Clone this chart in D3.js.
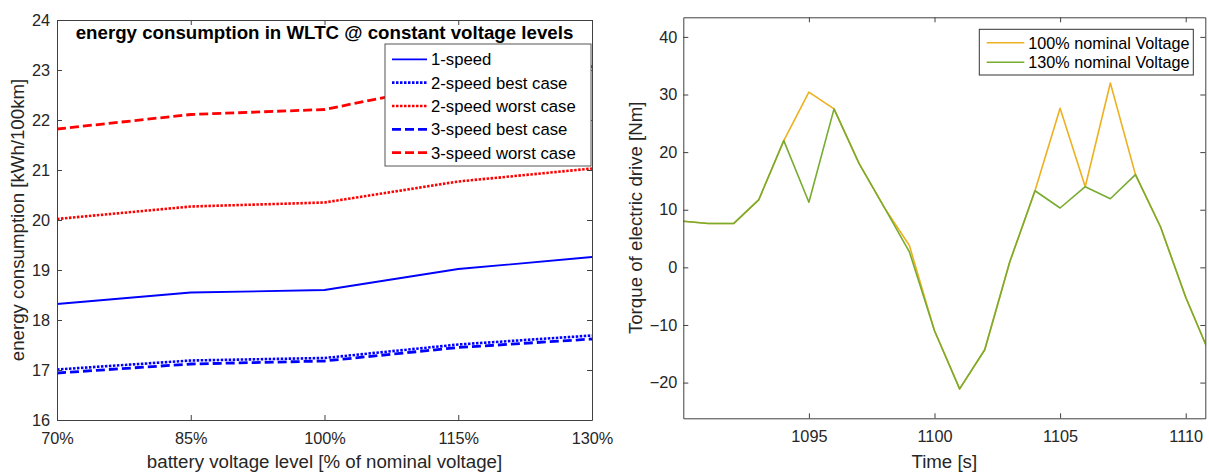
<!DOCTYPE html>
<html>
<head>
<meta charset="utf-8">
<script src="https://cdn.jsdelivr.net/npm/d3@7"></script>
<style>
  html, body { margin: 0; padding: 0; background: #ffffff; }
  svg { display: block; font-family: "Liberation Sans", Arial, Helvetica, sans-serif; }
</style>
</head>
<body>
<div id="chart"></div>
<script>
// ---- left chart data: energy consumption vs battery voltage ----
const voltageLevels = [70, 85, 100, 115, 130];
const oneSpeed = [18.32, 18.55, 18.60, 19.02, 19.26];
const twoSpeedBest = [17.01, 17.19, 17.24, 17.51, 17.69];
const twoSpeedWorst = [20.02, 20.27, 20.35, 20.77, 21.03];
const threeSpeedBest = [16.94, 17.12, 17.18, 17.45, 17.62];
const threeSpeedWorst = [21.82, 22.11, 22.21, 22.75, 23.07];
const leftSeriesNames = ['1-speed', '2-speed best case', '2-speed worst case', '3-speed best case', '3-speed worst case'];
const leftYTicks = [16, 17, 18, 19, 20, 21, 22, 23, 24];

// ---- right chart data: torque over time ----
const timeSec = [1090, 1091, 1092, 1093, 1094, 1095, 1096, 1097, 1098, 1099, 1100,
                 1101, 1102, 1103, 1104, 1105, 1106, 1107, 1108, 1109, 1110, 1111];
const torque100 = [8.0, 7.6, 7.6, 11.7, 22.0, 30.4, 27.5, 18.0, 10.4, 3.8, -11.0,
                   -21.1, -14.3, 1.0, 13.3, 27.6, 14.0, 32.0, 16.1, 7.0, -5.2, -15.5];
const torque130 = [8.0, 7.6, 7.6, 11.7, 22.0, 11.3, 27.5, 18.0, 10.4, 2.7, -11.0,
                   -21.1, -14.3, 1.0, 13.3, 10.3, 14.0, 11.9, 16.1, 7.0, -5.2, -15.5];
const rightSeriesNames = ['100% nominal Voltage', '130% nominal Voltage'];
const rightXTicks = [1095, 1100, 1105, 1110];
const rightYTicks = [-20, -10, 0, 10, 20, 30, 40];

const textColor = '#262626';
const axisColor = '#404040';

const svg = d3.select('#chart')
  .append('svg')
  .attr('width', 1209)
  .attr('height', 472);

// draws a boxed MATLAB-style axes with inward ticks on all four sides
function drawBox(g, x, y, xTicks, yTicks, xFmt, yFmt, yPad) {
  const [x0, x1] = x.range();
  const [y0, y1] = y.range();

  const bottom = g.append('g')
    .attr('transform', `translate(0,${y0})`)
    .call(d3.axisBottom(x).tickValues(xTicks).tickFormat(xFmt).tickSizeInner(-5).tickSizeOuter(0).tickPadding(12));
  const top = g.append('g')
    .attr('transform', `translate(0,${y1})`)
    .call(d3.axisTop(x).tickValues(xTicks).tickFormat('').tickSizeInner(-5).tickSizeOuter(0));
  const left = g.append('g')
    .attr('transform', `translate(${x0},0)`)
    .call(d3.axisLeft(y).tickValues(yTicks).tickFormat(yFmt).tickSizeInner(-5).tickSizeOuter(0).tickPadding(yPad));
  const right = g.append('g')
    .attr('transform', `translate(${x1},0)`)
    .call(d3.axisRight(y).tickValues(yTicks).tickFormat('').tickSizeInner(-5).tickSizeOuter(0));

  [bottom, top, left, right].forEach(a => {
    a.select('.domain').attr('stroke', axisColor);
    a.selectAll('.tick line').attr('stroke', axisColor);
    a.selectAll('text')
      .attr('fill', textColor)
      .style('font-size', '16.3px')
      .style('font-family', '"Liberation Sans", Arial, sans-serif');
  });
}

// ================= LEFT CHART =================
const xL = d3.scaleLinear().domain([70, 130]).range([57, 592]);
const yL = d3.scaleLinear().domain([16, 24]).range([420, 20]);

const gL = svg.append('g');

svg.append('clipPath').attr('id', 'clipL')
  .append('rect')
  .attr('x', xL(70)).attr('y', yL(24))
  .attr('width', xL(130) - xL(70)).attr('height', yL(16) - yL(24));

const leftSeries = [
  { name: leftSeriesNames[0], values: oneSpeed, color: '#0000ff', width: 1.8, dash: null },
  { name: leftSeriesNames[1], values: twoSpeedBest, color: '#0000ff', width: 2.6, dash: '2.5,1.5' },
  { name: leftSeriesNames[2], values: twoSpeedWorst, color: '#ff0000', width: 2.6, dash: '2.5,1.5' },
  { name: leftSeriesNames[3], values: threeSpeedBest, color: '#0000ff', width: 2.8, dash: '9,4' },
  { name: leftSeriesNames[4], values: threeSpeedWorst, color: '#ff0000', width: 2.8, dash: '9,4' }
];

const lineL = d3.line()
  .x(d => xL(d[0]))
  .y(d => yL(d[1]));

gL.append('g')
  .attr('clip-path', 'url(#clipL)')
  .selectAll('path')
  .data(leftSeries)
  .enter()
  .append('path')
  .attr('fill', 'none')
  .attr('stroke', d => d.color)
  .attr('stroke-width', d => d.width)
  .attr('stroke-dasharray', d => d.dash)
  .attr('d', d => lineL(voltageLevels.map((v, i) => [v, d.values[i]])));

drawBox(gL, xL, yL, voltageLevels, leftYTicks, d => d + '%', d3.format('d'), 7);

// title
gL.append('text')
  .attr('x', (xL(70) + xL(130)) / 2)
  .attr('y', 39)
  .attr('text-anchor', 'middle')
  .attr('fill', '#000')
  .style('font-size', '18.7px')
  .style('font-weight', 'bold')
  .text('energy consumption in WLTC @ constant voltage levels');

// axis labels
gL.append('text')
  .attr('x', (xL(70) + xL(130)) / 2)
  .attr('y', 468)
  .attr('text-anchor', 'middle')
  .attr('fill', textColor)
  .style('font-size', '18.7px')
  .text('battery voltage level [% of nominal voltage]');

gL.append('text')
  .attr('transform', `translate(24,${(yL(16) + yL(24)) / 2}) rotate(-90)`)
  .attr('text-anchor', 'middle')
  .attr('fill', textColor)
  .style('font-size', '18.7px')
  .text('energy consumption [kWh/100km]');

// legend
const legL = gL.append('g').attr('transform', 'translate(385,44)');
legL.append('rect')
  .attr('width', 206).attr('height', 122)
  .attr('fill', '#fff').attr('stroke', '#555').attr('stroke-width', 1);
const legLItems = legL.selectAll('.item')
  .data(leftSeries)
  .enter()
  .append('g')
  .attr('class', 'item')
  .attr('transform', (d, i) => `translate(0,${15.3 + i * 23.35})`);
legLItems.append('line')
  .attr('x1', 7).attr('x2', 42)
  .attr('stroke', d => d.color)
  .attr('stroke-width', d => d.width)
  .attr('stroke-dasharray', d => d.dash);
legLItems.append('text')
  .attr('x', 46).attr('y', 5.9)
  .attr('fill', '#000')
  .style('font-size', '16.7px')
  .text(d => d.name);

// ================= RIGHT CHART =================
const xR = d3.scaleLinear().domain([1090, 1110.78]).range([683.3, 1205.3]);
const yR = d3.scaleLinear().domain([-26.2, 43.4]).range([418.3, 17.3]);

const gR = svg.append('g');

svg.append('clipPath').attr('id', 'clipR')
  .append('rect')
  .attr('x', xR.range()[0]).attr('y', yR.range()[1])
  .attr('width', xR.range()[1] - xR.range()[0])
  .attr('height', yR.range()[0] - yR.range()[1]);

const rightSeries = [
  { name: rightSeriesNames[0], values: torque100, color: '#edb120' },
  { name: rightSeriesNames[1], values: torque130, color: '#77ac30' }
];

const lineR = d3.line()
  .x(d => xR(d[0]))
  .y(d => yR(d[1]));

gR.append('g')
  .attr('clip-path', 'url(#clipR)')
  .selectAll('path')
  .data(rightSeries)
  .enter()
  .append('path')
  .attr('fill', 'none')
  .attr('stroke', d => d.color)
  .attr('stroke-width', 1.6)
  .attr('stroke-linejoin', 'round')
  .attr('d', d => lineR(timeSec.map((t, i) => [t, d.values[i]])));

drawBox(gR, xR, yR, rightXTicks, rightYTicks, d3.format('d'), d3.format('d'), 6);

gR.append('text')
  .attr('x', (xR.range()[0] + xR.range()[1]) / 2)
  .attr('y', 468)
  .attr('text-anchor', 'middle')
  .attr('fill', textColor)
  .style('font-size', '18.7px')
  .text('Time [s]');

gR.append('text')
  .attr('transform', `translate(642,${(yR.range()[0] + yR.range()[1]) / 2}) rotate(-90)`)
  .attr('text-anchor', 'middle')
  .attr('fill', textColor)
  .style('font-size', '18.7px')
  .text('Torque of electric drive [Nm]');

// legend
const legR = gR.append('g').attr('transform', 'translate(979.3,29.3)');
legR.append('rect')
  .attr('width', 214).attr('height', 45.7)
  .attr('fill', '#fff').attr('stroke', '#333').attr('stroke-width', 1);
const legRItems = legR.selectAll('.item')
  .data(rightSeries)
  .enter()
  .append('g')
  .attr('class', 'item')
  .attr('transform', (d, i) => `translate(0,${13.4 + i * 19.6})`);
legRItems.append('line')
  .attr('x1', 7.4).attr('x2', 45)
  .attr('stroke', d => d.color)
  .attr('stroke-width', 1.6);
legRItems.append('text')
  .attr('x', 49).attr('y', 5.8)
  .attr('fill', '#000')
  .style('font-size', '16.2px')
  .text(d => d.name);
</script>
</body>
</html>
